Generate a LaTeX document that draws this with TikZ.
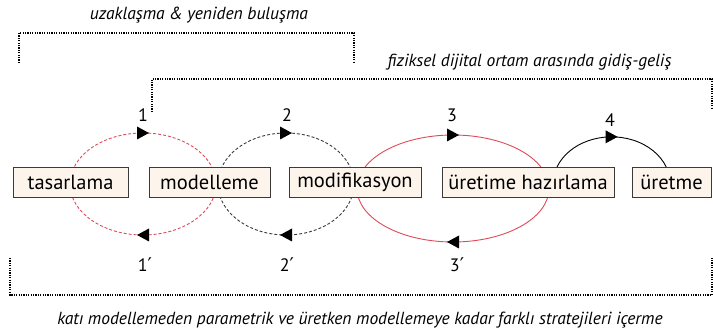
\documentclass[tikz,border=0pt]{standalone}
\usepackage{fontspec}
\setmainfont{PT Sans}
\newfontfamily\primefont{DejaVu Sans}
\usetikzlibrary{arrows.meta,positioning,decorations.markings}
\definecolor{Loop}{HTML}{DC4B57}
\definecolor{Edge}{HTML}{3A3A3A}
\definecolor{Cream}{HTML}{FDF5EC}
\newcommand{\pr}{{\primefont\fontsize{19}{21}\selectfont ′}}

\begin{document}
\begin{tikzpicture}[x=1pt,y=1pt,
  stagebox/.style={draw=Edge,line width=0.9pt,fill=Cream,minimum height=30pt,inner sep=0pt,outer sep=0pt,font=\fontsize{20.5}{23}\selectfont},
  num/.style={font=\fontsize{18}{21}\selectfont,inner sep=0pt},
  note/.style={font=\itshape\fontsize{17.5}{20}\selectfont,inner sep=0pt},
  span/.style={line width=1.3pt,dash pattern=on 1.2pt off 1.2pt},
  loop/.style={line width=0.9pt,postaction={decorate,decoration={markings,
    mark=at position 0.25 with {\fill[black] (-6pt,0pt) -- (6pt,6.5pt) -- (6pt,-6.5pt) -- cycle;},
    mark=at position 0.75 with {\fill[black] (-6pt,0pt) -- (6pt,6.5pt) -- (6pt,-6.5pt) -- cycle;}}}},
  halfloop/.style={line width=0.9pt,postaction={decorate,decoration={markings,
    mark=at position 0.5 with {\fill[black] (6pt,0pt) -- (-6pt,6.5pt) -- (-6pt,-6.5pt) -- cycle;}}}}]
  \useasboundingbox (0,0) rectangle (713,332);
  % loops go underneath the boxes
  \coordinate (c1) at (143,148);
  \coordinate (c2) at (286,148);
  \coordinate (c3) at (453,143.5);
  \draw[loop,Loop,dash pattern=on 3pt off 2pt] (c1) ellipse[x radius=73pt,y radius=51pt];
  \draw[loop,Edge,dash pattern=on 3pt off 2pt] (c2) ellipse[x radius=68pt,y radius=51pt];
  \draw[loop,Loop] (c3) ellipse[x radius=96pt,y radius=53.5pt];

  \node[stagebox,minimum width=115pt] (tasarlama) at (70.5,150) {tasarlama};
  \node[stagebox,minimum width=121pt,right=21pt of tasarlama] (modelleme) {modelleme};
  \node[stagebox,minimum width=132pt,right=19pt of modelleme] (modifikasyon) {modifikasyon};
  \node[stagebox,minimum width=172pt,right=21pt of modifikasyon] (hazirlama) {üretime hazırlama};
  \node[stagebox,minimum width=79pt,right=18pt of hazirlama] (uretme) {üretme};
  \draw[halfloop,black] ([xshift=-57pt]hazirlama.north east) arc[start angle=159,end angle=21,x radius=58.5pt,y radius=47pt];

  \node[num] (n1) at (143,217) {1};
  \node[num] (n2) at (287,217) {2};
  \node[num] (n3) at (452,217) {3};
  \node[num] (n4) at (610,212) {4};
  \node[num] (m1) at (145,67) {1\pr};
  \node[num] (m2) at (287,67) {2\pr};
  \node[num] (m3) at (457,67) {3\pr};

  % dotted spans
  \draw[span] (19,269) -- (19,299) -- (354,299) -- (354,269);
  \node[note] (away) at (199,317) {uzaklaşma \& yeniden buluşma};
  \draw[span] (152,220) -- (152,253) -- (712,253) -- (712,224);
  \node[note] (phys) at (529.5,270) {fiziksel dijital ortam arasında gidiş-geliş};
  \draw[span] (10,74) -- (10,37) -- (712,37) -- (712,74);
  \node[note] (solid) at (360,12) {katı modellemeden parametrik ve üretken modellemeye kadar farklı stratejileri içerme};
\end{tikzpicture}
\end{document}
